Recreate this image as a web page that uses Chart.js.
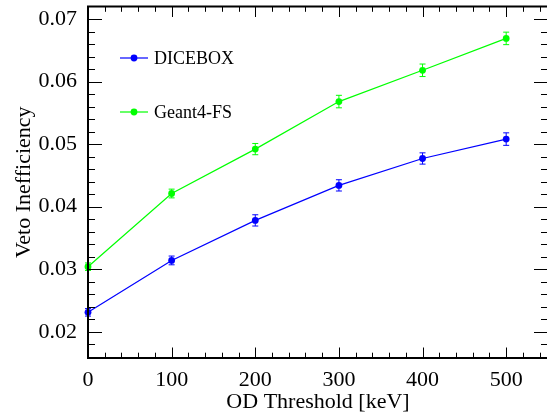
<!DOCTYPE html>
<html>
<head>
<meta charset="utf-8">
<script src="https://cdn.jsdelivr.net/npm/chart.js@4.4.1/dist/chart.umd.min.js"></script>
<style>
    html, body { margin: 0; padding: 0; background: #fff; overflow: hidden; }
    #wrap { width: 547px; height: 413px; overflow: hidden; }
</style>
</head>
<body>
<div id="wrap"><canvas id="chart" width="552" height="413"></canvas></div>
<script>
// Veto inefficiency vs OD threshold.
const thresholds = [0, 100, 200, 300, 400, 500];
const diceboxValues = [0.0231, 0.0314, 0.0378, 0.0434, 0.0477, 0.0508];
const diceboxErrors = [0.0006, 0.0007, 0.0009, 0.0009, 0.0009, 0.0010];
const geant4Values = [0.0304, 0.0421, 0.0492, 0.0568, 0.0618, 0.0669];
const geant4Errors = [0.0006, 0.0007, 0.0009, 0.0010, 0.0010, 0.0010];

const xTickValues = [0, 100, 200, 300, 400, 500];
const xTickLabels = ['0', '100', '200', '300', '400', '500'];
const yTickValues = [0.02, 0.03, 0.04, 0.05, 0.06, 0.07];
const yTickLabels = ['0.02', '0.03', '0.04', '0.05', '0.06', '0.07'];

const FONT = "'Liberation Serif', serif";
const BLUE = '#0000ff';
const GREEN = '#00ff00';

function toPoints(xs, ys) {
    return xs.map((x, i) => ({ x, y: ys[i] }));
}

function series(label, color, values, errors) {
    return {
        label,
        data: toPoints(thresholds, values),
        errors,
        borderColor: color,
        backgroundColor: color,
        borderWidth: 1.2,
        pointRadius: 3.4,
        pointBorderWidth: 0,
        pointBackgroundColor: color,
        tension: 0,
        clip: false
    };
}

// vertical error bars with small caps, drawn under the markers
const errorBars = {
    id: 'errorBars',
    beforeDatasetsDraw(chart) {
        const { ctx, scales: { x, y } } = chart;
        ctx.save();
        chart.data.datasets.forEach(ds => {
            ctx.strokeStyle = ds.borderColor;
            ctx.lineWidth = 1;
            ds.data.forEach((p, i) => {
                const px = x.getPixelForValue(p.x);
                const top = y.getPixelForValue(p.y + ds.errors[i]);
                const bot = y.getPixelForValue(p.y - ds.errors[i]);
                ctx.beginPath();
                ctx.moveTo(px, top); ctx.lineTo(px, bot);
                ctx.moveTo(px - 3, top); ctx.lineTo(px + 3, top);
                ctx.moveTo(px - 3, bot); ctx.lineTo(px + 3, bot);
                ctx.stroke();
            });
        });
        ctx.restore();
    }
};

// ROOT-style frame with inward ticks on all four sides, plus the legend
const frameAndLegend = {
    id: 'frameAndLegend',
    afterDraw(chart) {
        const { ctx, chartArea: a, scales: { x, y } } = chart;
        ctx.save();
        ctx.strokeStyle = '#000';
        ctx.lineWidth = 1;
        ctx.beginPath();
        for (let i = Math.ceil(x.min / 20); i * 20 <= x.max; i++) {
            const px = Math.round(x.getPixelForValue(i * 20)) + 0.5;
            const len = i % 5 === 0 ? 10.5 : 5.3;
            ctx.moveTo(px, a.bottom); ctx.lineTo(px, a.bottom - len);
            ctx.moveTo(px, a.top); ctx.lineTo(px, a.top + len);
        }
        for (let i = Math.ceil(y.min / 0.002 - 1e-6); i * 0.002 <= y.max + 1e-9; i++) {
            const py = Math.round(y.getPixelForValue(i * 0.002)) + 0.5;
            const len = i % 5 === 0 ? 14 : 7;
            ctx.moveTo(a.left, py); ctx.lineTo(a.left + len, py);
            ctx.moveTo(a.right, py); ctx.lineTo(a.right - len, py);
        }
        ctx.stroke();

        ctx.lineWidth = 2;
        ctx.strokeRect(a.left, a.top, a.right - a.left, a.bottom - a.top);

        // legend
        ctx.font = '18px ' + FONT;
        ctx.textBaseline = 'middle';
        ctx.textAlign = 'left';
        chart.data.datasets.forEach((ds, i) => {
            const ly = a.top + 51.5 + i * 54;
            const lx = a.left + 32;
            ctx.strokeStyle = ds.borderColor;
            ctx.lineWidth = 1.2;
            ctx.beginPath();
            ctx.moveTo(lx, ly); ctx.lineTo(lx + 28, ly);
            ctx.stroke();
            ctx.fillStyle = ds.borderColor;
            ctx.beginPath();
            ctx.arc(lx + 14, ly, 3.4, 0, Math.PI * 2);
            ctx.fill();
            ctx.fillStyle = '#000';
            ctx.fillText(ds.label, lx + 34, ly + 1);
        });
        ctx.restore();
    }
};

new Chart(document.getElementById('chart'), {
    type: 'line',
    data: {
        datasets: [
            series('DICEBOX', BLUE, diceboxValues, diceboxErrors),
            series('Geant4-FS', GREEN, geant4Values, geant4Errors)
        ]
    },
    options: {
        responsive: false,
        animation: false,
        devicePixelRatio: 1,
        layout: { padding: { top: 6.5, right: 3, left: 0, bottom: 0 } },
        plugins: { legend: { display: false }, tooltip: { enabled: false } },
        scales: {
            x: {
                type: 'linear',
                min: 0,
                max: 550,
                grid: { display: false, drawTicks: false },
                border: { display: false },
                afterBuildTicks: s => { s.ticks = xTickValues.map(v => ({ value: v })); },
                afterFit: s => { s.height = 55; s.paddingLeft = 0; s.paddingRight = 0; },
                ticks: {
                    padding: 9.5,
                    color: '#000',
                    font: { family: FONT, size: 22 },
                    maxRotation: 0,
                    callback: (v, i) => xTickLabels[i]
                },
                title: {
                    display: true,
                    text: 'OD Threshold [keV]',
                    color: '#000',
                    font: { family: FONT, size: 22, lineHeight: 1 },
                    padding: { top: 0, bottom: 0 }
                }
            },
            y: {
                type: 'linear',
                min: 0.0158,
                max: 0.0720,
                grid: { display: false, drawTicks: false },
                border: { display: false },
                afterBuildTicks: s => { s.ticks = yTickValues.map(v => ({ value: v })); },
                // labels sit well inside the frame, so no extra room is reserved for them
                afterFit: s => { s.width = 88; s.paddingTop = 0; s.paddingBottom = 0; },
                ticks: {
                    padding: 11,
                    color: '#000',
                    font: { family: FONT, size: 22 },
                    callback: (v, i) => yTickLabels[i]
                },
                title: {
                    display: true,
                    text: 'Veto Inefficiency',
                    color: '#000',
                    font: { family: FONT, size: 22, lineHeight: 1 },
                    padding: { top: 13, bottom: 0 }
                }
            }
        }
    },
    plugins: [errorBars, frameAndLegend]
});
</script>
</body>
</html>
